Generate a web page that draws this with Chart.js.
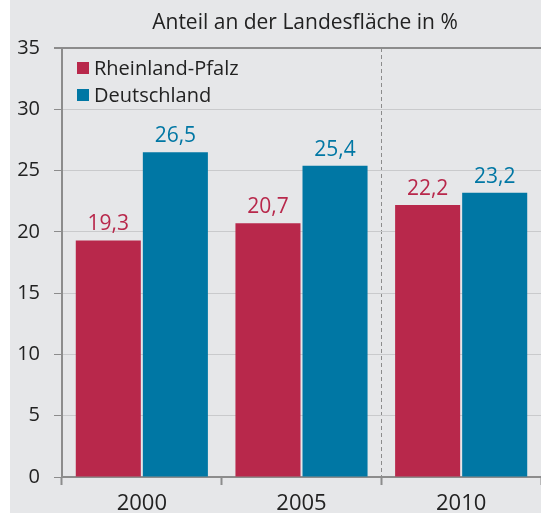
<!DOCTYPE html>
<html>
<head>
<meta charset="utf-8">
<script src="https://cdn.jsdelivr.net/npm/chart.js@4.4.1/dist/chart.umd.min.js"></script>
<style>
  html, body { margin: 0; padding: 0; background: #ffffff; }
  #wrap { width: 541px; height: 513px; }
</style>
</head>
<body>
<div id="wrap"><canvas id="chart" width="541" height="513"></canvas></div>
<script>
// Werte aus der Grafik
const years = ['2000', '2005', '2010'];
const rheinlandPfalz = [19.3, 20.7, 22.2];
const deutschland = [26.5, 25.4, 23.2];
const yTicks = [0, 5, 10, 15, 20, 25, 30, 35];

const RED = '#b8284b';
const BLUE = '#0077a4';
const FONT = "'Open Sans', 'Noto Sans', sans-serif";
const TEXT = '#222222';

// Hintergrund, Titel, Legende und Werte direkt auf die Leinwand
const decorations = {
    id: 'decorations',
    beforeDraw(chart) {
        const ctx = chart.ctx;
        ctx.save();
        ctx.fillStyle = '#e6e7e9';
        ctx.fillRect(10, 0, chart.width - 10, chart.height);
        ctx.restore();
    },
    afterDraw(chart) {
        const ctx = chart.ctx;
        ctx.save();
        ctx.font = '21px ' + FONT;
        ctx.fillStyle = TEXT;
        ctx.textAlign = 'center';
        ctx.textBaseline = 'alphabetic';
        ctx.fillText('Anteil an der Landesfläche in %', 305, 29);

        // Legende oben links im Diagramm
        ctx.font = '20px ' + FONT;
        ctx.textAlign = 'left';
        ctx.textBaseline = 'middle';
        chart.data.datasets.forEach((ds, i) => {
            const y = 68 + i * 27;
            ctx.fillStyle = ds.backgroundColor;
            ctx.fillRect(77, y - 6, 12, 12);
            ctx.fillStyle = TEXT;
            ctx.fillText(ds.label, 94, y + 1);
        });

        // Werte über den Balken
        ctx.font = '21px ' + FONT;
        ctx.textAlign = 'center';
        ctx.textBaseline = 'alphabetic';
        chart.data.datasets.forEach((ds, i) => {
            const meta = chart.getDatasetMeta(i);
            ctx.fillStyle = ds.backgroundColor;
            meta.data.forEach((bar, j) => {
                const txt = ds.data[j].toFixed(1).replace('.', ',');
                ctx.fillText(txt, bar.x, bar.y - 10);
            });
        });
        ctx.restore();
    }
};

new Chart(document.getElementById('chart'), {
    type: 'bar',
    data: {
        labels: years,
        datasets: [
            { label: 'Rheinland-Pfalz', data: rheinlandPfalz, backgroundColor: RED },
            { label: 'Deutschland', data: deutschland, backgroundColor: BLUE }
        ]
    },
    options: {
        responsive: false,
        animation: false,
        devicePixelRatio: 1,
        layout: { padding: { top: 48, right: 0, left: 0, bottom: 0 } },
        datasets: { bar: { categoryPercentage: 0.84, barPercentage: 0.97 } },
        plugins: {
            legend: { display: false },
            title: { display: false },
            tooltip: { enabled: false }
        },
        scales: {
            x: {
                offset: true,
                grid: {
                    offset: true,
                    color: ctx => ctx.index === 2 ? '#8c8c8c' : 'rgba(0,0,0,0)',
                    tickColor: '#8c8c8c',
                    tickLength: 8,
                    lineWidth: 1,
                    tickWidth: 2
                },
                border: { color: '#8c8c8c', width: 2, dash: [4, 3] },
                ticks: { color: TEXT, font: { family: FONT, size: 22 }, padding: 6 },
                afterFit(scale) { scale.height = 36; }
            },
            y: {
                min: 0,
                max: 35,
                afterBuildTicks(scale) { scale.ticks = yTicks.map(v => ({ value: v })); },
                grid: {
                    color: ctx => ctx.tick && ctx.tick.value === 35 ? '#8c8c8c' : '#c9cacc',
                    tickColor: '#8c8c8c',
                    tickLength: 8,
                    lineWidth: ctx => ctx.tick && ctx.tick.value === 35 ? 2 : 1
                },
                border: { color: '#8c8c8c', width: 2 },
                ticks: { color: TEXT, font: { family: FONT, size: 20 }, padding: 14 },
                afterFit(scale) { scale.width = 62; }
            }
        }
    },
    plugins: [decorations]
});
</script>
</body>
</html>
